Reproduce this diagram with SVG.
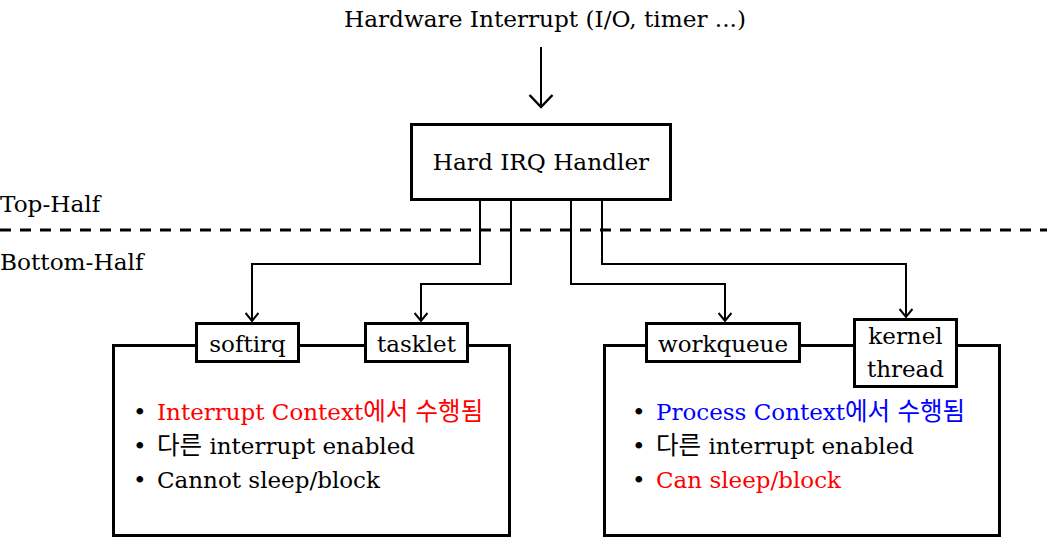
<svg xmlns="http://www.w3.org/2000/svg" width="1047" height="538" viewBox="0 0 1047 538">
<defs>
<style>
text{font-family:"DejaVu Serif","Noto Sans CJK KR",serif;fill:#000}
.t{font-size:23.2px}
.b{font-size:23px}
.k{font-family:"Noto Sans CJK KR",sans-serif;font-size:24.5px}
.box{fill:#fff;stroke:#000;stroke-width:3}
.con{fill:none;stroke:#000;stroke-width:2}
.red{fill:#ff0000}
.blue{fill:#0000ff}
</style>
<marker id="ah" viewBox="-10 -7 12 14" refX="0" refY="0" markerWidth="12" markerHeight="14" markerUnits="userSpaceOnUse" orient="auto">
<path d="M-8,-6.5 L0,0 L-8,6.5" fill="none" stroke="#000" stroke-width="2"/>
</marker>
<marker id="ahBig" viewBox="-14 -13 16 26" refX="0" refY="0" markerWidth="16" markerHeight="26" markerUnits="userSpaceOnUse" orient="auto">
<path d="M-12,-11.5 L0,0 L-12,11.5" fill="none" stroke="#000" stroke-width="2.5"/>
</marker>
</defs>
<rect width="1047" height="538" fill="#fff"/>

<g id="title">
<text class="t" x="545" y="27" text-anchor="middle">Hardware Interrupt (I/O, timer ...)</text>
</g>

<g id="labels">
<text class="t" x="0" y="212">Top-Half</text>
<text class="t" x="0" y="270">Bottom-Half</text>
<line x1="0" y1="230" x2="1047" y2="230" stroke="#000" stroke-width="3" stroke-dasharray="11,9"/>
</g>

<g id="connectors">
<line class="con" x1="541" y1="47" x2="541" y2="107" stroke-width="2.5" marker-end="url(#ahBig)"/>
<polyline class="con" points="480,201 480,264 252,264 252,321" marker-end="url(#ah)"/>
<polyline class="con" points="511,201 511,284 421,284 421,321" marker-end="url(#ah)"/>
<polyline class="con" points="571,201 571,284 725,284 725,321" marker-end="url(#ah)"/>
<polyline class="con" points="602,201 602,264 906,264 906,317" marker-end="url(#ah)"/>
</g>

<g id="handler">
<rect class="box" x="411.5" y="124.5" width="259" height="75"/>
<text class="t" x="541" y="170" text-anchor="middle">Hard IRQ Handler</text>
</g>

<g id="left-group">
<rect class="box" x="113.5" y="345.5" width="396" height="190"/>
<text class="b" x="133" y="420">•</text>
<text class="b red" x="157" y="420">Interrupt Context<tspan class="k">에서</tspan> <tspan class="k">수행됨</tspan></text>
<text class="b" x="133" y="454">•</text>
<text class="b" x="157" y="454"><tspan class="k">다른</tspan> interrupt enabled</text>
<text class="b" x="133" y="488">•</text>
<text class="b" x="157" y="488">Cannot sleep/block</text>
</g>
<g id="softirq">
<rect class="box" x="196.5" y="323.5" width="102" height="38"/>
<text class="b" x="247.5" y="352" text-anchor="middle">softirq</text>
</g>
<g id="tasklet">
<rect class="box" x="365.5" y="323.5" width="102" height="38"/>
<text class="b" x="416.5" y="352" text-anchor="middle">tasklet</text>
</g>

<g id="right-group">
<rect class="box" x="604.5" y="345.5" width="395" height="190"/>
<text class="b" x="632" y="420">•</text>
<text class="b blue" x="656" y="420">Process Context<tspan class="k">에서</tspan> <tspan class="k">수행됨</tspan></text>
<text class="b" x="632" y="454">•</text>
<text class="b" x="656" y="454"><tspan class="k">다른</tspan> interrupt enabled</text>
<text class="b" x="632" y="488">•</text>
<text class="b red" x="656" y="488">Can sleep/block</text>
</g>
<g id="workqueue">
<rect class="box" x="646.5" y="323.5" width="153" height="38"/>
<text class="b" x="723" y="352" text-anchor="middle">workqueue</text>
</g>
<g id="kernel-thread">
<rect class="box" x="854.5" y="319.5" width="102" height="67"/>
<text class="b" x="905.5" y="344" text-anchor="middle">kernel</text>
<text class="b" x="905.5" y="377" text-anchor="middle">thread</text>
</g>
</svg>
